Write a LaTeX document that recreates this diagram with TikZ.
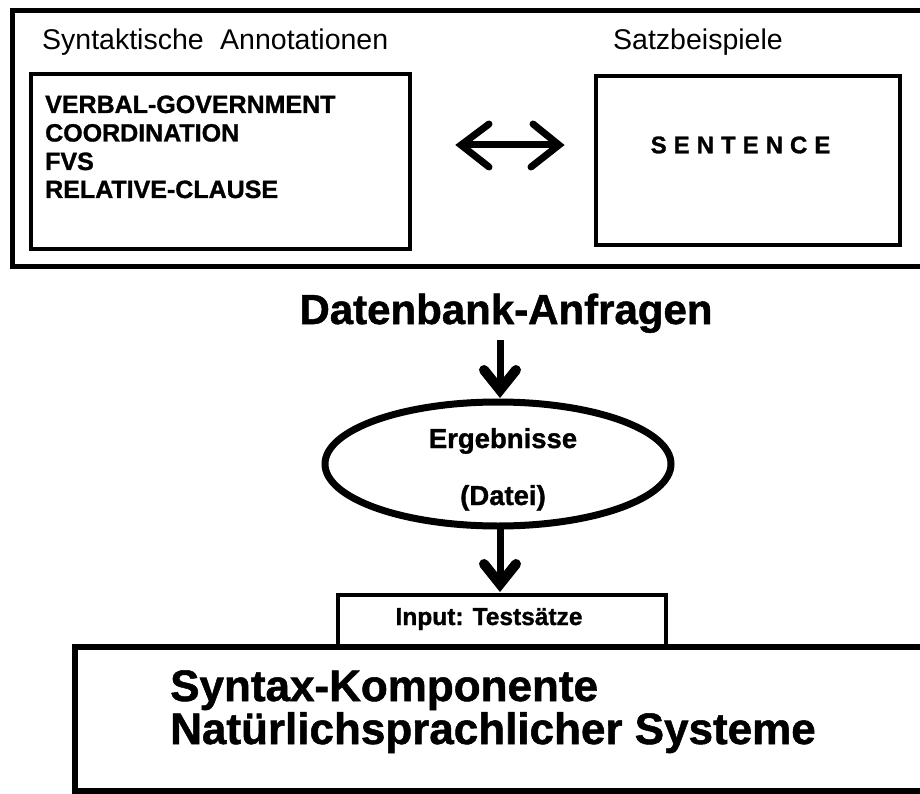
\documentclass[tikz,border=0pt]{standalone}
\usepackage{fontspec}
\setmainfont{Liberation Sans}[BoldFeatures={FakeBold=1.2}]
\usetikzlibrary{shapes.geometric}
\begin{document}
\begin{tikzpicture}[x=1pt,y=-1pt,
  framebox/.style={draw, rectangle, line width=5pt, inner sep=0pt},
  boxnode/.style={draw, rectangle, line width=4pt, inner sep=0pt},
  lbl/.style={inner sep=0pt, anchor=base west},
  ctr/.style={inner sep=0pt, anchor=base},
  shaft/.style={line width=7pt},
  chev/.style={line width=7pt, line cap=round, line join=miter},
  headv/.style={line width=10pt, line cap=round, line join=miter},
  regtxt/.style={font=\fontsize{28.5}{30}\selectfont},
  listtxt/.style={font=\bfseries\fontsize{25}{28}\selectfont},
]
\useasboundingbox (0,0) rectangle (920,794);
% top frame
\node[framebox, minimum width=928pt, minimum height=256pt] (topframe) at (476.5,138.5) {};
\node[boxnode, minimum width=379pt, minimum height=175pt] (annbox) at (220.5,161.5) {};
\node[boxnode, minimum width=304pt, minimum height=169pt] (sentbox) at (748,160.5) {};
\node[lbl, regtxt] (anntitle) at (42,50) {Syntaktische\hspace{0.3em} Annotationen};
\node[lbl, regtxt] (senttitle) at (613,50) {Satzbeispiele};
\node[lbl, listtxt] (l1) at (45,113) {VERBAL-GOVERNMENT};
\node[lbl, listtxt] (l2) at (45,141.5) {COORDINATION};
\node[lbl, listtxt] (l3) at (45,170) {FVS};
\node[lbl, listtxt] (l4) at (45,198) {RELATIVE-CLAUSE};
\node[inner sep=0pt, font=\bfseries\fontsize{24}{26}\selectfont] (sent) at (740.5,145)
  {S\kern7pt E\kern7pt N\kern7pt T\kern7pt E\kern7pt N\kern7pt C\kern7pt E};
% double arrow
\coordinate (dal) at (461,145);
\coordinate (dar) at (559,145);
\draw[shaft] (dal) -- (dar);
\draw[chev] ([shift={(28,-21)}]dal) -- (dal) -- ([shift={(28,22)}]dal);
\draw[chev] ([shift={(-26,-21)}]dar) -- (dar) -- ([shift={(-28,22)}]dar);
% query title
\node[ctr, font=\bfseries\fontsize{42}{46}\selectfont] (query) at (506,324) {Datenbank-Anfragen};
% ellipse
\node[draw, ellipse, line width=7pt, minimum width=346pt, minimum height=124pt, inner sep=0pt] (result) at (498,464) {};
\node[ctr, font=\bfseries\fontsize{27.5}{30}\selectfont] (erg) at (503,448) {Ergebnisse};
\node[ctr, font=\bfseries\fontsize{27.5}{30}\selectfont] (datei) at (503,505) {(Datei)};
% arrow 1
\coordinate (a1s) at (500,340);
\coordinate (a1t) at (500,390);
\draw[shaft] (a1s) -- (a1t);
\draw[headv] ([shift={(-16,-20)}]a1t) -- (a1t) -- ([shift={(16,-20)}]a1t);
% arrow 2
\coordinate (a2s) at (500,529);
\coordinate (a2t) at (500,584);
\draw[shaft] (a2s) -- (a2t);
\draw[headv] ([shift={(-16,-20)}]a2t) -- (a2t) -- ([shift={(16,-20)}]a2t);
% input box
\node[boxnode, minimum width=328pt, minimum height=52pt] (inbox) at (502,621) {};
\node[ctr, font=\bfseries\fontsize{24.5}{26}\selectfont] (intxt) at (489,625) {Input: Testsätze};
% bottom box
\node[framebox, line width=6pt, minimum width=865pt, minimum height=144pt] (syscomp) at (507.5,719) {};
\node[lbl, font=\bfseries\fontsize{44}{48}\selectfont] (s1) at (170,701) {Syntax-Komponente};
\node[lbl, font=\bfseries\fontsize{44}{48}\selectfont] (s2) at (170,744) {Natürlichsprachlicher Systeme};
\end{tikzpicture}
\end{document}
